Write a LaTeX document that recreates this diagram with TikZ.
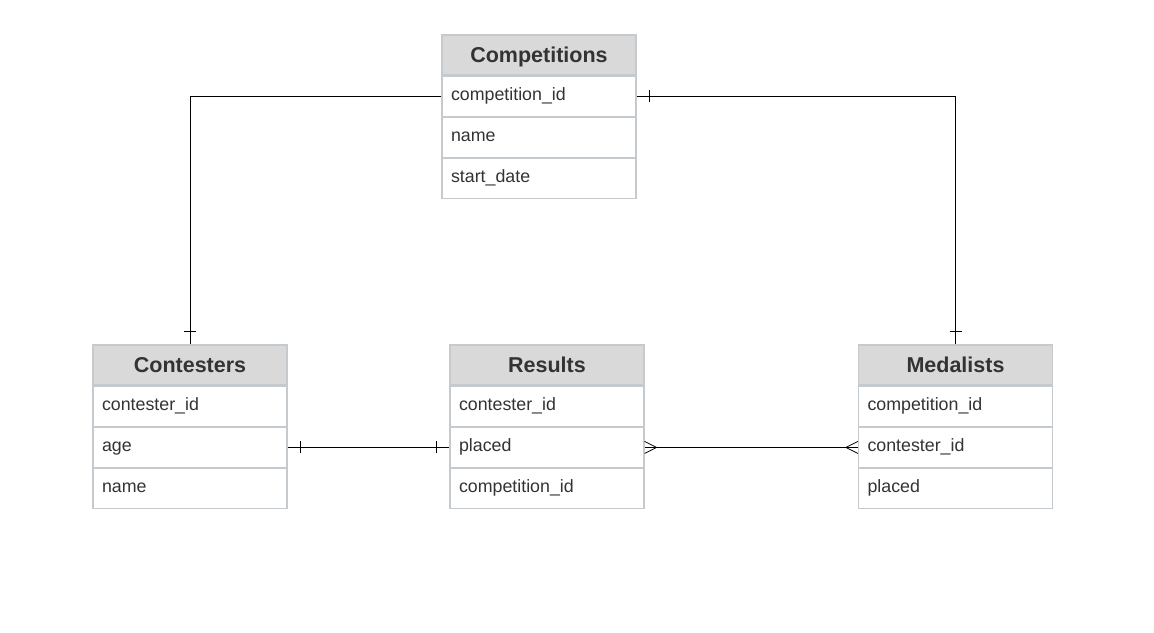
\documentclass[tikz,border=0pt]{standalone}
\usepackage{fontspec}
\setmainfont{Liberation Sans}
\usetikzlibrary{positioning, decorations.markings}
\definecolor{boxline}{HTML}{C4CACD}
\definecolor{headfill}{HTML}{D9D9D9}
\definecolor{inktext}{HTML}{333333}
\tikzset{
    head/.style = {
        draw=boxline, line width=1.2pt, fill=headfill, text=inktext,
        minimum width=194pt, minimum height=40pt, inner sep=0pt,
        text height=15.5pt, text depth=0pt,
        font=\fontsize{21.5}{25}\selectfont\bfseries
    },
    row/.style = {
        draw=boxline, line width=1.2pt, fill=white, text=inktext,
        minimum width=194pt, minimum height=40pt, inner xsep=9pt, inner ysep=0pt,
        text width=176pt, align=left, text height=12pt, text depth=4pt,
        font=\fontsize{17.8}{20}\selectfont
    },
    link/.style = {line width=1pt, black},
    onestart/.style = {
        postaction={decorate,
            decoration={
                markings,
                mark=at position 13pt with {\draw[line width=0.8pt] (0,-6pt) -- (0,6pt);}
            }
        }
    },
    oneend/.style = {
        postaction={decorate,
            decoration={
                markings,
                mark=at position -13pt with {\draw[line width=0.8pt] (0,-6pt) -- (0,6pt);}
            }
        }
    },
    manystart/.style = {
        postaction={decorate,
            decoration={
                markings,
                mark=at position 12pt with {\draw[line width=0.8pt] (-12pt,6pt) -- (0,0) -- (-12pt,-6pt);}
            }
        }
    },
    manyend/.style = {
        postaction={decorate,
            decoration={
                markings,
                mark=at position -12pt with {\draw[line width=0.8pt] (12pt,6pt) -- (0,0) -- (12pt,-6pt);}
            }
        }
    }
}
\begin{document}
\begin{tikzpicture}[x=1pt, y=-1pt]
        \useasboundingbox[fill=white] (0, 0) rectangle (1154, 632);
        % Competitions
        \node[head] (comp) at (539, 55) {Competitions};
        \node[row, below=0pt of comp] (comp1) {competition\_id};
        \node[row, below=0pt of comp1] (comp2) {name};
        \node[row, below=0pt of comp2] (comp3) {start\_date};
        % Contesters
        \node[head] (cont) at (190, 365) {Contesters};
        \node[row, below=0pt of cont] (cont1) {contester\_id};
        \node[row, below=0pt of cont1] (cont2) {age};
        \node[row, below=0pt of cont2] (cont3) {name};
        % Results
        \node[head] (res) at (547, 365) {Results};
        \node[row, below=0pt of res] (res1) {contester\_id};
        \node[row, below=0pt of res1] (res2) {placed};
        \node[row, below=0pt of res2] (res3) {competition\_id};
        % Medalists
        \node[head] (med) at (955.5, 365) {Medalists};
        \node[row, below=0pt of med] (med1) {competition\_id};
        \node[row, below=0pt of med1] (med2) {contester\_id};
        \node[row, below=0pt of med2] (med3) {placed};

        \draw[link, oneend] (comp1.west) -| (cont.north);
        \draw[link, onestart, oneend] (comp1.east) -| (med.north);
        \draw[link, onestart, oneend] (cont2.east) -- (res2.west);
        \draw[link, manystart, manyend] (res2.east) -- (med2.west);
    \end{tikzpicture}
\end{document}
